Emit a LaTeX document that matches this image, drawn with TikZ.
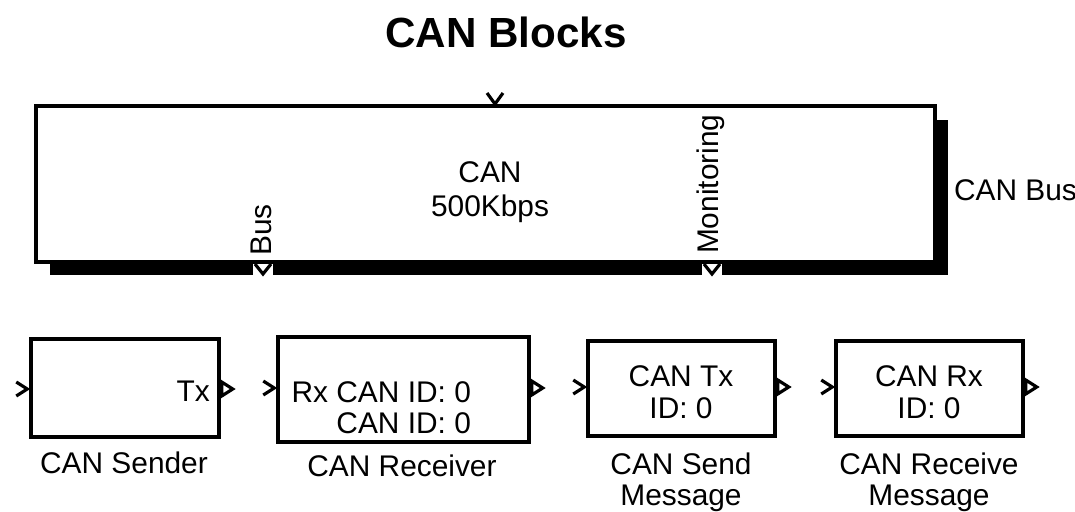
\documentclass[tikz,border=0pt]{standalone}
\usepackage{fontspec}
\setmainfont{Liberation Sans}
\usetikzlibrary{shadows}

\begin{document}
\begin{tikzpicture}[x=0.02cm, y=-0.02cm,
    block/.style={rectangle, draw=black, line width=2pt, fill=white, inner sep=0pt},
    busblock/.style={block, minimum width=17.98cm, minimum height=3.12cm, drop shadow={shadow xshift=0.27cm, shadow yshift=-0.27cm, fill=black, opacity=1}},
    msgblock/.style={block, minimum width=3.74cm, minimum height=1.9cm},
    txt/.style={font=\fontsize{17}{18.2}\selectfont, align=center, inner sep=1pt},
    port/.style={line width=1.8pt, line join=miter},
    inport/.pic={\draw[port] (-13,-7) -- (-2,0) -- (-13,7);},
    outport/.pic={\draw[port, fill=white] (1,-7) -- (12,0) -- (1,7) -- cycle;},
    topport/.pic={\draw[port] (-8,-13) -- (0,-2) -- (8,-13);},
    botport/.pic={\fill[white] (-10,2) rectangle (10,13); \draw[port] (-8,2) -- (0,12) -- (8,2);}
]
\useasboundingbox (0,0) rectangle (1075,511);

% title
\node[font=\fontsize{24}{28}\bfseries] (title) at (506,32) {CAN Blocks};

% bus block
\node[busblock] (bus) at (485.5,184) {};
\node[txt, font=\fontsize{17}{19.3}\selectfont] (busname) at (490,192) {CAN\\500Kbps};
\node[txt, rotate=90, anchor=west] (buslbl) at (261,258) {Bus};
\node[txt, rotate=90, anchor=west] (monlbl) at (711,256) {Monitoring};
\node[txt, anchor=west] (cbus) at (952,190) {CAN Bus};
\pic at (495,106) {topport};
\pic at (263,262) {botport};
\pic at (712,262) {botport};

% CAN blocks
\node[block, minimum width=3.76cm, minimum height=1.96cm] (sender) at (125,388) {};
\node[block, minimum width=5.02cm, minimum height=2.1cm] (receiver) at (403.5,389.5) {};
\node[msgblock] (sendmsg) at (681.5,388.5) {};
\node[msgblock] (recvmsg) at (929.5,388.5) {};

\node[txt, anchor=east] (tx) at (212,391) {Tx};
\node[txt, align=right, anchor=east, font=\fontsize{17}{17.6}\selectfont] (rxid) at (473,408) {Rx CAN ID: 0\\CAN ID: 0};
\node[txt] (txid) at (681,392) {CAN Tx\\ID: 0};
\node[txt] (rxmid) at (929,392) {CAN Rx\\ID: 0};

\pic at (sender.west |- 0,389) {inport};
\pic at (sender.east |- 0,389) {outport};
\pic at (receiver.west |- 0,388) {inport};
\pic at (receiver.east |- 0,388) {outport};
\pic at (sendmsg.west |- 0,387) {inport};
\pic at (sendmsg.east |- 0,387) {outport};
\pic at (recvmsg.west |- 0,387) {inport};
\pic at (recvmsg.east |- 0,387) {outport};

% block names
\node[txt] (sendername) at (124,463) {CAN Sender};
\node[txt] (receivername) at (402,465.5) {CAN Receiver};
\node[txt, font=\fontsize{17}{17.8}\selectfont] (sendmsgname) at (681,482) {CAN Send\\Message};
\node[txt, font=\fontsize{17}{17.8}\selectfont] (recvmsgname) at (929,482) {CAN Receive\\Message};

\end{tikzpicture}
\end{document}
